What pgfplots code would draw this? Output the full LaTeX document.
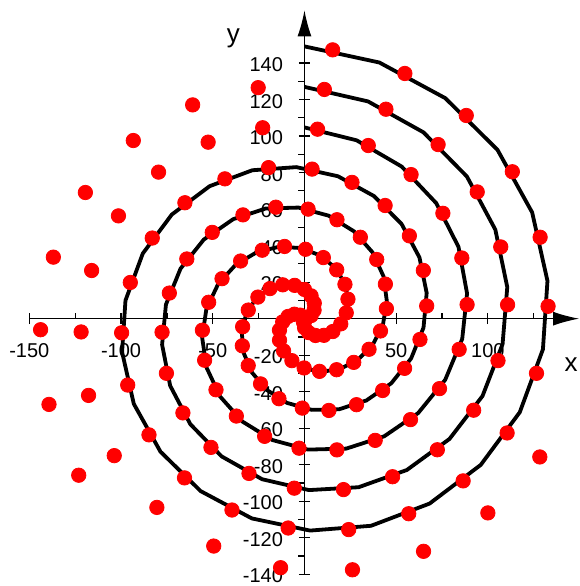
\documentclass[border=0pt]{standalone}
\usepackage{fontspec}
\setmainfont{Liberation Sans}
\usepackage{pgfplots}
\usepackage{pgfplotstable}
\pgfplotsset{compat=1.18}
\usetikzlibrary{arrows.meta}

% spiral curves, polar: angle (deg), radius
\pgfplotstableread{
a r
810.00 149.10
793.77 146.10
777.55 143.10
761.32 140.10
745.10 137.10
728.87 134.10
712.65 131.10
696.42 128.10
680.20 125.10
663.97 122.10
647.75 119.10
631.52 116.10
615.30 113.10
599.07 110.10
582.85 107.10
566.62 104.10
550.40 101.10
534.17 98.10
517.95 95.10
501.72 92.10
485.50 89.10
469.27 86.10
453.05 83.10
436.82 80.10
420.60 77.10
404.37 74.10
388.14 71.10
371.92 68.10
355.69 65.10
339.47 62.10
323.24 59.10
307.02 56.10
290.79 53.10
274.57 50.10
258.34 47.10
242.12 44.10
225.89 41.10
209.67 38.10
193.44 35.10
177.22 32.10
160.99 29.10
144.77 26.10
128.54 23.10
112.32 20.10
96.09 17.10
79.87 14.10
63.64 11.10
47.42 8.10
31.19 5.10
14.97 2.10
3.60 0.00
}\curveA
\pgfplotstableread{
a r
810.00 126.92
793.77 123.92
777.55 120.92
761.32 117.92
745.10 114.92
728.87 111.92
712.65 108.92
696.42 105.92
680.20 102.92
663.97 99.92
647.75 96.92
631.52 93.92
615.30 90.92
599.07 87.92
582.85 84.92
566.62 81.92
550.40 78.92
534.17 75.92
517.95 72.92
501.72 69.92
485.50 66.92
469.27 63.92
453.05 60.92
436.82 57.92
420.60 54.92
404.37 51.92
388.14 48.92
371.92 45.92
355.69 42.92
339.47 39.92
323.24 36.92
307.02 33.92
290.79 30.92
274.57 27.92
258.34 24.92
242.12 21.92
225.89 18.92
209.67 15.92
193.44 12.92
177.22 9.92
160.99 6.92
144.77 3.92
128.54 0.92
123.60 0.00
}\curveB
\pgfplotstableread{
a r
810.00 104.73
793.77 101.73
777.55 98.73
761.32 95.73
745.10 92.73
728.87 89.73
712.65 86.73
696.42 83.73
680.20 80.73
663.97 77.73
647.75 74.73
631.52 71.73
615.30 68.73
599.07 65.73
582.85 62.73
566.62 59.73
550.40 56.73
534.17 53.73
517.95 50.73
501.72 47.73
485.50 44.73
469.27 41.73
453.05 38.73
436.82 35.73
420.60 32.73
404.37 29.73
388.14 26.73
371.92 23.73
355.69 20.73
339.47 17.73
323.24 14.73
307.02 11.73
290.79 8.73
274.57 5.73
258.34 2.73
243.60 0.00
}\curveC
% data points, polar: angle (deg), radius
\pgfplotstableread{
a r
9.01 1
25.23 4
41.46 7
57.68 10
73.91 13
90.13 16
106.36 19
122.58 22
138.81 25
155.04 28
171.26 31
187.49 34
203.71 37
219.94 40
236.16 43
252.39 46
268.61 49
284.84 52
301.06 55
317.29 58
333.51 61
349.74 64
365.96 67
382.19 70
398.41 73
414.64 76
430.86 79
447.09 82
463.31 85
479.54 88
495.76 91
511.99 94
528.21 97
544.44 100
560.67 103
576.89 106
593.12 109
609.34 112
625.57 115
641.79 118
658.02 121
674.24 124
690.47 127
706.69 130
722.92 133
739.14 136
755.37 139
771.59 142
787.82 145
804.04 148
139.83 3
156.05 6
172.28 9
188.50 12
204.73 15
220.95 18
237.18 21
253.40 24
269.63 27
285.85 30
302.08 33
318.30 36
334.53 39
350.75 42
366.98 45
383.20 48
399.43 51
415.65 54
431.88 57
448.10 60
464.33 63
480.55 66
496.78 69
513.00 72
529.23 75
545.46 78
561.68 81
577.91 84
594.13 87
610.36 90
626.58 93
642.81 96
659.03 99
675.26 102
691.48 105
707.71 108
723.93 111
740.16 114
756.38 117
772.61 120
788.83 123
805.06 126
821.28 129
837.51 132
853.73 135
869.96 138
886.18 141
902.41 144
918.63 147
934.86 150
254.42 2
270.64 5
286.87 8
303.09 11
319.32 14
335.54 17
351.77 20
367.99 23
384.22 26
400.44 29
416.67 32
432.89 35
449.12 38
465.34 41
481.57 44
497.79 47
514.02 50
530.25 53
546.47 56
562.70 59
578.92 62
595.15 65
611.37 68
627.60 71
643.82 74
660.05 77
676.27 80
692.50 83
708.72 86
724.95 89
741.17 92
757.40 95
773.62 98
789.85 101
806.07 104
822.30 107
838.52 110
854.75 113
870.97 116
887.20 119
903.42 122
919.65 125
935.88 128
952.10 131
968.33 134
984.55 137
1000.78 140
1017.00 143
1033.23 146
1049.45 149
}\dots

\begin{document}
\begin{tikzpicture}
\begin{axis}[
  set layers=standard,
  x=0.917pt, y=0.913pt,
  axis lines=middle,
  xmin=-150, xmax=149.7, ymin=-140, ymax=168.8,
  enlargelimits=false, clip=false,
  axis line style={line width=0.6pt, -{Latex[length=13pt,width=7pt]}},
  xtick={-150,-100,-50,50,100},
  minor xtick={-125,-75,-25,25,75,125},
  ytick={-140,-120,-100,-80,-60,-40,-20,20,40,60,80,100,120,140},
  minor ytick={-130,-110,-90,-70,-50,-30,-10,10,30,50,70,90,110,130},
  tick align=center,
  major tick length=5.5pt, minor tick length=3pt,
  tick style={black, line width=0.6pt},
  minor x tick style={yshift=1.5pt},
  minor y tick style={xshift=-1.5pt},
  /pgf/number format/assume math mode=true,
  ticklabel style={font=\fontsize{10}{12}\selectfont},
  xticklabel style={yshift=-6pt},
  yticklabel style={xshift=-4.5pt, yshift=-0.8pt},
  xlabel={x}, ylabel={y},
  every axis x label/.style={at={(axis cs:145.4,-25.4)}, anchor=center, font=\fontsize{13}{15}\selectfont},
  every axis y label/.style={at={(axis cs:-38.8,153.6)}, anchor=center, font=\fontsize{13}{15}\selectfont},
]
\addplot[black, line width=1.9pt, line join=round, no marks, data cs=polar] table[x=a, y=r] {\curveA};
\addplot[black, line width=1.9pt, line join=round, no marks, data cs=polar] table[x=a, y=r] {\curveB};
\addplot[black, line width=1.9pt, line join=round, no marks, data cs=polar] table[x=a, y=r] {\curveC};
\addplot[only marks, mark=*, mark size=3.6pt, color=red, fill=red, data cs=polar] table[x=a, y=r] {\dots};
\coordinate (bl) at (axis cs:-166.0,-146.4);
\coordinate (tr) at (axis cs:149.7,174.5);
\end{axis}
\pgfresetboundingbox
\path (bl) rectangle (tr);
\end{tikzpicture}
\end{document}
